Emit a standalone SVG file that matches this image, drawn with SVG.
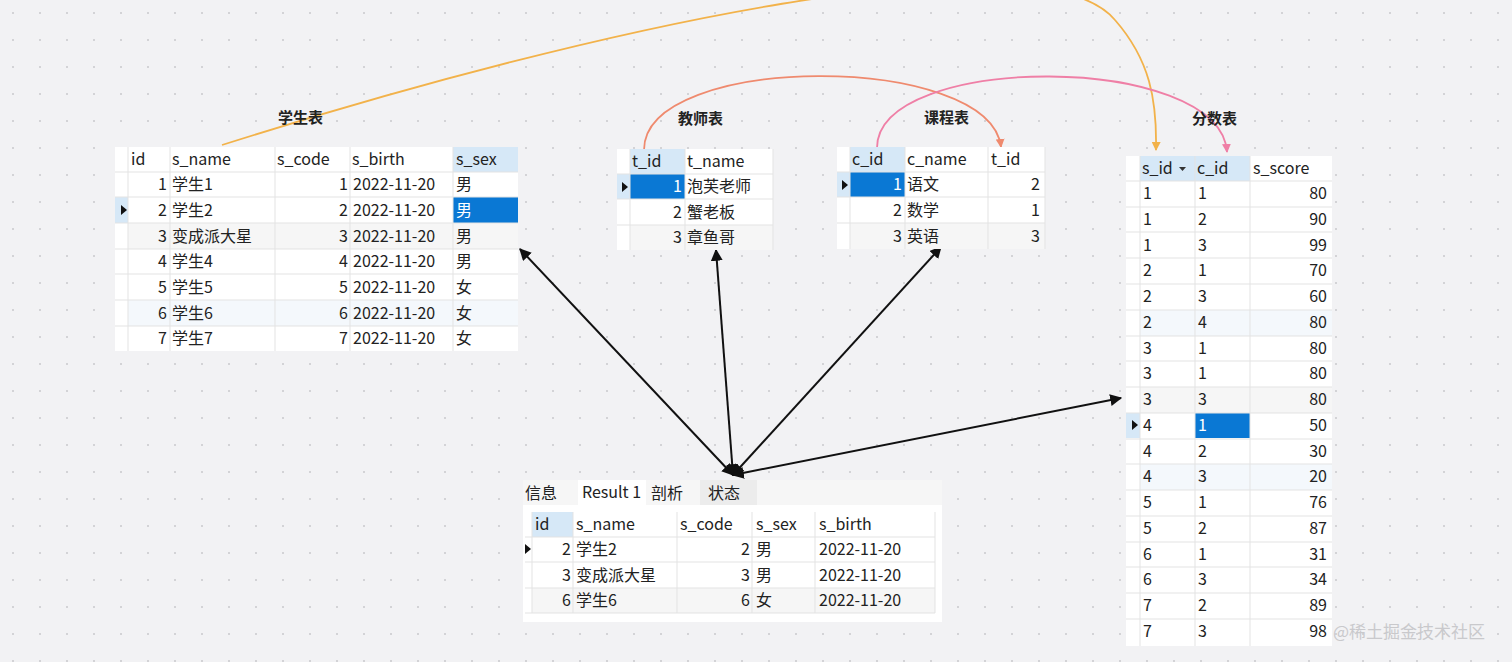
<svg xmlns="http://www.w3.org/2000/svg" width="1512" height="662" viewBox="0 0 1512 662">
<style>
text{font-family:"Noto Sans CJK SC","Noto Sans",sans-serif;font-size:16px;fill:#222}
.t{font-size:15px;font-weight:bold}
.r{text-anchor:end}
.hd{fill:#fff}.hs{fill:#d6e8f7}.wr{fill:#fff}.ar{fill:#f4f8fc}.mk{fill:#fafafa}
.sel{fill:#0a78d4}.w{fill:#fff}
.ln{stroke:#e3e3e3;stroke-width:1}
.bk{stroke:#111;stroke-width:2;fill:none;marker-end:url(#ab)}
</style>
<defs>
<pattern id="dots" width="27" height="27" patternUnits="userSpaceOnUse"><circle cx="13" cy="13" r="1" fill="#c8c8cc"/></pattern>
<marker id="ab" viewBox="0 0 10 10" refX="9" refY="5" markerWidth="6" markerHeight="6" orient="auto-start-reverse"><path d="M0,0L10,5L0,10z" fill="#111"/></marker>
<marker id="ao" viewBox="0 0 10 10" refX="9" refY="5" markerWidth="5" markerHeight="5" orient="auto"><path d="M0,0L10,5L0,10z" fill="#f2b24a"/></marker>
<marker id="as" viewBox="0 0 10 10" refX="9" refY="5" markerWidth="5" markerHeight="5" orient="auto"><path d="M0,0L10,5L0,10z" fill="#ef8a6e"/></marker>
<marker id="ap" viewBox="0 0 10 10" refX="9" refY="5" markerWidth="5" markerHeight="5" orient="auto"><path d="M0,0L10,5L0,10z" fill="#ef7fa6"/></marker>
<path id="tri" d="M0,-5L6,0L0,5z" fill="#111"/>
</defs>
<rect width="1512" height="662" fill="#f2f2f4"/>
<rect width="1512" height="662" fill="url(#dots)"/>

<g id="connectors">
<path d="M222,145 C600,25 1040,-70 1115,20 C1150,60 1157,100 1156,150" stroke="#f2b24a" stroke-width="1.8" fill="none" marker-end="url(#ao)"/>
<path d="M644,150 C644,52 990,52 1001,147" stroke="#ef8a6e" stroke-width="1.8" fill="none" marker-end="url(#as)"/>
<path d="M877,148 C877,52 1220,52 1227,152" stroke="#ef7fa6" stroke-width="1.8" fill="none" marker-end="url(#ap)"/>
<line x1="733" y1="475" x2="520" y2="249" class="bk" marker-start="url(#ab)"/>
<line x1="733" y1="475" x2="716" y2="250" class="bk" marker-start="url(#ab)"/>
<line x1="733" y1="475" x2="941" y2="247" class="bk" marker-start="url(#ab)"/>
<line x1="733" y1="475" x2="1121" y2="398" class="bk" marker-start="url(#ab)"/>
</g>

<g id="student">
<text class="t" x="278" y="123">学生表</text>
<rect x="115" y="147" width="403" height="204" fill="#fff"/>
<rect x="453" y="147" width="65" height="25" class="hs"/>
<rect x="128" y="223" width="390" height="26" fill="#f6f6f6"/>
<rect x="128" y="300" width="390" height="26" class="ar"/>
<rect x="115" y="197" width="13" height="26" class="hs"/>
<rect x="453" y="197" width="65" height="26" class="sel"/>
<g class="ln"><line x1="128" y1="147" x2="128" y2="351"/><line x1="170" y1="147" x2="170" y2="351"/><line x1="275" y1="147" x2="275" y2="351"/><line x1="350" y1="147" x2="350" y2="351"/><line x1="453" y1="147" x2="453" y2="351"/>
<line x1="115" y1="172" x2="518" y2="172"/><line x1="115" y1="197" x2="518" y2="197"/><line x1="115" y1="223" x2="518" y2="223"/><line x1="115" y1="249" x2="518" y2="249"/><line x1="115" y1="274" x2="518" y2="274"/><line x1="115" y1="300" x2="518" y2="300"/><line x1="115" y1="326" x2="518" y2="326"/></g>
<use href="#tri" x="121" y="210"/>
<text x="131" y="165">id</text><text x="172" y="165">s_name</text><text x="277" y="165">s_code</text><text x="352" y="165">s_birth</text><text x="456" y="165">s_sex</text>
<g><text class="r" x="167" y="190">1</text><text x="172" y="190">学生1</text><text class="r" x="348" y="190">1</text><text x="353" y="190">2022-11-20</text><text x="456" y="190">男</text></g>
<g><text class="r" x="167" y="216">2</text><text x="172" y="216">学生2</text><text class="r" x="348" y="216">2</text><text x="353" y="216">2022-11-20</text><text x="456" y="216" class="w">男</text></g>
<g><text class="r" x="167" y="242">3</text><text x="172" y="242">变成派大星</text><text class="r" x="348" y="242">3</text><text x="353" y="242">2022-11-20</text><text x="456" y="242">男</text></g>
<g><text class="r" x="167" y="267">4</text><text x="172" y="267">学生4</text><text class="r" x="348" y="267">4</text><text x="353" y="267">2022-11-20</text><text x="456" y="267">男</text></g>
<g><text class="r" x="167" y="293">5</text><text x="172" y="293">学生5</text><text class="r" x="348" y="293">5</text><text x="353" y="293">2022-11-20</text><text x="456" y="293">女</text></g>
<g><text class="r" x="167" y="319">6</text><text x="172" y="319">学生6</text><text class="r" x="348" y="319">6</text><text x="353" y="319">2022-11-20</text><text x="456" y="319">女</text></g>
<g><text class="r" x="167" y="344">7</text><text x="172" y="344">学生7</text><text class="r" x="348" y="344">7</text><text x="353" y="344">2022-11-20</text><text x="456" y="344">女</text></g>
</g>

<g id="teacher">
<text class="t" x="678" y="124">教师表</text>
<rect x="617" y="149" width="156" height="101" fill="#fff"/>
<rect x="630" y="149" width="55" height="25" class="hs"/>
<rect x="617" y="174" width="13" height="25" class="hs"/>
<rect x="630" y="174" width="55" height="25" class="sel"/>
<rect x="630" y="225" width="143" height="25" fill="#f6f6f6"/>
<g class="ln"><line x1="630" y1="149" x2="630" y2="250"/><line x1="685" y1="149" x2="685" y2="250"/><line x1="773" y1="149" x2="773" y2="250"/><line x1="617" y1="174" x2="773" y2="174"/><line x1="617" y1="199" x2="773" y2="199"/><line x1="617" y1="225" x2="773" y2="225"/></g>
<use href="#tri" x="622" y="187"/>
<text x="632" y="167">t_id</text><text x="687" y="167">t_name</text>
<text class="r w" x="682" y="192">1</text><text x="687" y="192">泡芙老师</text>
<text class="r" x="682" y="218">2</text><text x="687" y="218">蟹老板</text>
<text class="r" x="682" y="243">3</text><text x="687" y="243">章鱼哥</text>
</g>

<g id="course">
<text class="t" x="924" y="123">课程表</text>
<rect x="837" y="147" width="208" height="102" fill="#fff"/>
<rect x="850" y="147" width="55" height="25" class="hs"/>
<rect x="837" y="172" width="13" height="25" class="hs"/>
<rect x="850" y="172" width="55" height="25" class="sel"/>
<rect x="850" y="223" width="195" height="26" fill="#f6f6f6"/>
<g class="ln"><line x1="850" y1="147" x2="850" y2="249"/><line x1="905" y1="147" x2="905" y2="249"/><line x1="988" y1="147" x2="988" y2="249"/><line x1="1045" y1="147" x2="1045" y2="249"/><line x1="837" y1="172" x2="1045" y2="172"/><line x1="837" y1="197" x2="1045" y2="197"/><line x1="837" y1="223" x2="1045" y2="223"/></g>
<use href="#tri" x="842" y="185"/>
<text x="852" y="165">c_id</text><text x="907" y="165">c_name</text><text x="991" y="165">t_id</text>
<text class="r w" x="902" y="190">1</text><text x="907" y="190">语文</text><text class="r" x="1040" y="190">2</text>
<text class="r" x="902" y="216">2</text><text x="907" y="216">数学</text><text class="r" x="1040" y="216">1</text>
<text class="r" x="902" y="242">3</text><text x="907" y="242">英语</text><text class="r" x="1040" y="242">3</text>
</g>

<g id="score">
<text class="t" x="1192" y="124">分数表</text>
<rect x="1126" y="156" width="206" height="490" fill="#fff"/>
<rect x="1140" y="156" width="110" height="25" class="hs"/>
<rect x="1140" y="310" width="192" height="26" class="ar"/>
<rect x="1140" y="387" width="192" height="26" fill="#f6f6f6"/>
<rect x="1140" y="464" width="192" height="26" class="ar"/>
<rect x="1126" y="413" width="14" height="25" class="hs"/>
<rect x="1195" y="413" width="55" height="25" class="sel"/>
<g class="ln"><line x1="1140" y1="156" x2="1140" y2="646"/><line x1="1195" y1="156" x2="1195" y2="646"/><line x1="1250" y1="156" x2="1250" y2="646"/>
<line x1="1126" y1="181" x2="1332" y2="181"/><line x1="1126" y1="207" x2="1332" y2="207"/><line x1="1126" y1="232" x2="1332" y2="232"/><line x1="1126" y1="258" x2="1332" y2="258"/><line x1="1126" y1="284" x2="1332" y2="284"/><line x1="1126" y1="310" x2="1332" y2="310"/><line x1="1126" y1="336" x2="1332" y2="336"/><line x1="1126" y1="361" x2="1332" y2="361"/><line x1="1126" y1="387" x2="1332" y2="387"/><line x1="1126" y1="413" x2="1332" y2="413"/><line x1="1126" y1="439" x2="1332" y2="439"/><line x1="1126" y1="464" x2="1332" y2="464"/><line x1="1126" y1="490" x2="1332" y2="490"/><line x1="1126" y1="516" x2="1332" y2="516"/><line x1="1126" y1="542" x2="1332" y2="542"/><line x1="1126" y1="567" x2="1332" y2="567"/><line x1="1126" y1="593" x2="1332" y2="593"/><line x1="1126" y1="619" x2="1332" y2="619"/></g>
<use href="#tri" x="1132" y="425"/>
<text x="1142" y="174">s_id</text><path d="M1179,167l7,0l-3.5,4z" fill="#333"/><text x="1197" y="174">c_id</text><text x="1253" y="174">s_score</text>
<g>
<text x="1143" y="199">1</text><text x="1198" y="199">1</text><text class="r" x="1327" y="199">80</text>
<text x="1143" y="225">1</text><text x="1198" y="225">2</text><text class="r" x="1327" y="225">90</text>
<text x="1143" y="251">1</text><text x="1198" y="251">3</text><text class="r" x="1327" y="251">99</text>
<text x="1143" y="276">2</text><text x="1198" y="276">1</text><text class="r" x="1327" y="276">70</text>
<text x="1143" y="302">2</text><text x="1198" y="302">3</text><text class="r" x="1327" y="302">60</text>
<text x="1143" y="328">2</text><text x="1198" y="328">4</text><text class="r" x="1327" y="328">80</text>
<text x="1143" y="354">3</text><text x="1198" y="354">1</text><text class="r" x="1327" y="354">80</text>
<text x="1143" y="379">3</text><text x="1198" y="379">1</text><text class="r" x="1327" y="379">80</text>
<text x="1143" y="405">3</text><text x="1198" y="405">3</text><text class="r" x="1327" y="405">80</text>
<text x="1143" y="431">4</text><text x="1198" y="431" class="w">1</text><text class="r" x="1327" y="431">50</text>
<text x="1143" y="457">4</text><text x="1198" y="457">2</text><text class="r" x="1327" y="457">30</text>
<text x="1143" y="482">4</text><text x="1198" y="482">3</text><text class="r" x="1327" y="482">20</text>
<text x="1143" y="508">5</text><text x="1198" y="508">1</text><text class="r" x="1327" y="508">76</text>
<text x="1143" y="534">5</text><text x="1198" y="534">2</text><text class="r" x="1327" y="534">87</text>
<text x="1143" y="560">6</text><text x="1198" y="560">1</text><text class="r" x="1327" y="560">31</text>
<text x="1143" y="585">6</text><text x="1198" y="585">3</text><text class="r" x="1327" y="585">34</text>
<text x="1143" y="611">7</text><text x="1198" y="611">2</text><text class="r" x="1327" y="611">89</text>
<text x="1143" y="637">7</text><text x="1198" y="637">3</text><text class="r" x="1327" y="637">98</text>
</g>
</g>

<g id="result">
<rect x="523" y="480" width="419" height="142" fill="#fff"/>
<rect x="523" y="480" width="419" height="25" fill="#f6f6f6"/>
<rect x="578" y="480" width="68" height="25" fill="#fff"/>
<rect x="700" y="480" width="57" height="25" fill="#ececec"/>
<text x="525" y="499">信息</text><text x="582" y="498">Result 1</text><text x="651" y="499">剖析</text><text x="708" y="499">状态</text>
<rect x="532" y="512" width="41" height="25" class="hs"/>
<rect x="532" y="588" width="403" height="25" fill="#f6f6f6"/>
<g class="ln"><line x1="532" y1="512" x2="532" y2="613"/><line x1="573" y1="512" x2="573" y2="613"/><line x1="677" y1="512" x2="677" y2="613"/><line x1="752" y1="512" x2="752" y2="613"/><line x1="815" y1="512" x2="815" y2="613"/><line x1="935" y1="512" x2="935" y2="613"/>
<line x1="525" y1="537" x2="935" y2="537"/><line x1="525" y1="562" x2="935" y2="562"/><line x1="525" y1="588" x2="935" y2="588"/><line x1="525" y1="613" x2="935" y2="613"/></g>
<use href="#tri" x="525" y="549"/>
<text x="535" y="530">id</text><text x="576" y="530">s_name</text><text x="680" y="530">s_code</text><text x="756" y="530">s_sex</text><text x="819" y="530">s_birth</text>
<text class="r" x="571" y="555">2</text><text x="576" y="555">学生2</text><text class="r" x="750" y="555">2</text><text x="756" y="555">男</text><text x="819" y="555">2022-11-20</text>
<text class="r" x="571" y="581">3</text><text x="576" y="581">变成派大星</text><text class="r" x="750" y="581">3</text><text x="756" y="581">男</text><text x="819" y="581">2022-11-20</text>
<text class="r" x="571" y="606">6</text><text x="576" y="606">学生6</text><text class="r" x="750" y="606">6</text><text x="756" y="606">女</text><text x="819" y="606">2022-11-20</text>
</g>
<text x="1333" y="638" style="fill:#c9c9cc;font-size:17px">@稀土掘金技术社区</text>
</svg>
